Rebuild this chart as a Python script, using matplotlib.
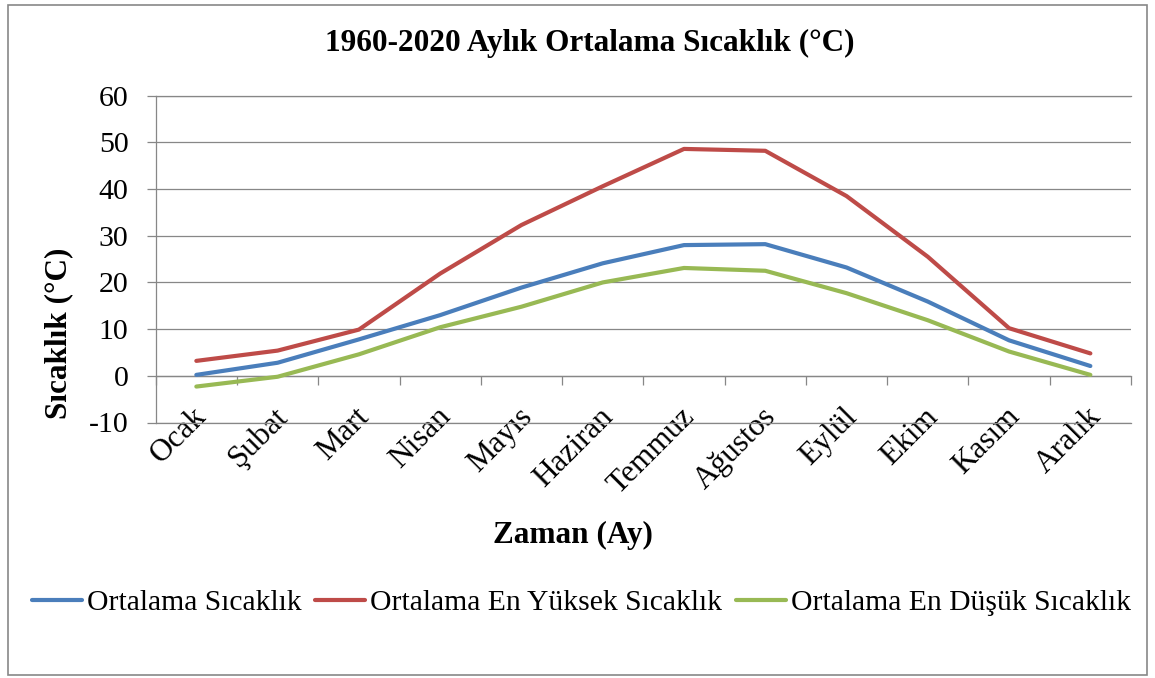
import matplotlib
matplotlib.use("Agg")
import matplotlib.pyplot as plt
from matplotlib.patches import Rectangle
from matplotlib.ticker import FixedLocator
from matplotlib.transforms import ScaledTranslation

plt.rcParams["font.family"] = ["Liberation Serif", "DejaVu Serif"]
plt.rcParams["axes.unicode_minus"] = False

# data
months = ["Ocak", "Şubat", "Mart", "Nisan", "Mayıs", "Haziran",
          "Temmuz", "Ağustos", "Eylül", "Ekim", "Kasım", "Aralık"]
mean_temp = [0.2, 2.8, 7.8, 13.0, 18.9, 24.1, 28.0, 28.2, 23.2, 15.9, 7.6, 2.1]
max_temp = [3.2, 5.4, 9.9, 21.9, 32.3, 40.6, 48.6, 48.2, 38.5, 25.5, 10.2, 4.8]
min_temp = [-2.3, -0.2, 4.6, 10.4, 14.8, 20.0, 23.1, 22.5, 17.7, 11.9, 5.2, 0.2]
series_names = ["Ortalama Sıcaklık", "Ortalama En Yüksek Sıcaklık",
                "Ortalama En Düşük Sıcaklık"]
yticks = [-10, 0, 10, 20, 30, 40, 50, 60]

colors = ["#4A7EBB", "#BE4B48", "#98B954"]
grey = "#878787"

W, H = 1155, 678
fig = plt.figure(figsize=(W / 100, H / 100), dpi=100)

# axes placed in pixel units of the reference
left, right, top, bottom = 155.7, 1131.0, 95.7, 422.5
ax = fig.add_axes([left / W, 1 - bottom / H, (right - left) / W, (bottom - top) / H])

x = list(range(len(months)))
for vals, name, c in zip([mean_temp, max_temp, min_temp], series_names, colors):
    ax.plot(x, vals, color=c, lw=3.0, solid_capstyle="round",
            solid_joinstyle="round", label=name, zorder=3)

ax.set_xlim(-0.5, len(months) - 0.5)
ax.set_ylim(-10, 60)
ax.set_yticks(yticks)
ax.tick_params(axis="y", direction="out", length=6.5, width=0.9, color=grey,
               labelsize=21.5, pad=13)
ax.yaxis.grid(True, color=grey, lw=0.9)
ax.set_axisbelow(True)
# outer gridlines drawn unclipped so they keep full width
for yv in (yticks[0], yticks[-1]):
    ax.axhline(yv, color=grey, lw=0.9, clip_on=False, zorder=1)

# x axis crosses at 0 like Excel
for s in ["top", "right"]:
    ax.spines[s].set_visible(False)
ax.spines["left"].set_color(grey)
ax.spines["left"].set_linewidth(0.9)
ax.spines["bottom"].set_position(("data", 0))
ax.spines["bottom"].set_color(grey)
ax.spines["bottom"].set_linewidth(0.9)

ax.set_xticks(x)
ax.set_xticklabels(months, rotation=45, ha="right", rotation_mode="anchor")
ax.xaxis.set_minor_locator(FixedLocator([i - 0.5 for i in range(len(months) + 1)]))
ax.tick_params(axis="x", which="major", length=0, labelsize=22.5, pad=19)
ax.tick_params(axis="x", which="minor", direction="out", length=6.7, width=0.9, color=grey)
shift = ScaledTranslation(-4 / 100, 0, fig.dpi_scale_trans)
for lbl in ax.get_xticklabels():
    lbl.set_transform(lbl.get_transform() + shift)

fig.text(590 / W, 1 - 51 / H, "1960-2020 Aylık Ortalama Sıcaklık (°C)",
         fontsize=22.5, fontweight="bold", ha="center", va="baseline")
fig.text(573 / W, 1 - 543 / H, "Zaman (Ay)",
         fontsize=22.5, fontweight="bold", ha="center", va="baseline")
fig.text(59 / W, 1 - 333 / H, "Sıcaklık (°C)", rotation=90,
         fontsize=22.5, fontweight="bold", ha="center", va="center")

fig.legend(loc="center", bbox_to_anchor=(581.5 / W, 1 - 603 / H), ncol=3,
           frameon=False, fontsize=21.3, handlelength=1.7, handletextpad=0.17,
           columnspacing=0.45, borderaxespad=0, borderpad=0)

# chart area border
fig.patches.append(Rectangle((8 / W, 1 - 675 / H), (1147 - 8) / W, (675 - 5) / H,
                             transform=fig.transFigure, fill=False,
                             edgecolor=grey, lw=1.2))

fig.savefig("out.png", dpi=100)
